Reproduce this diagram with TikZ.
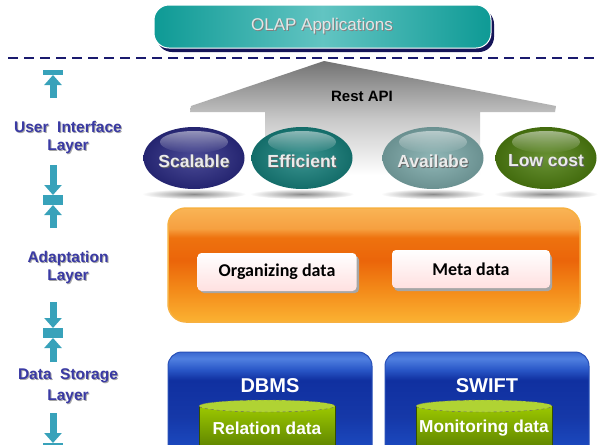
\documentclass[tikz,border=0pt]{standalone}
\usepackage{fontspec}
\setmainfont{Liberation Sans}
\newfontfamily\calib{Carlito}
\usetikzlibrary{shapes.geometric,fadings,calc,arrows.meta}

\definecolor{navy}{HTML}{1A1A6E}
\definecolor{lbl}{HTML}{3A3AA4}
\definecolor{arr}{HTML}{38A2BA}
\definecolor{tealA}{HTML}{0E9A95}
\definecolor{tealB}{HTML}{62C4C2}
\definecolor{ovScal}{HTML}{2B2B84}
\definecolor{ovEff}{HTML}{17807C}
\definecolor{ovAva}{HTML}{7DAAAA}
\definecolor{ovLow}{HTML}{4E7E10}
\definecolor{grA}{HTML}{9CC800}
\definecolor{grB}{HTML}{4C7000}
\definecolor{blRim}{HTML}{2850B8}
\definecolor{orRim}{HTML}{F7B040}
% orange body stops
\definecolor{orS}{HTML}{FBB232}
\definecolor{orT}{HTML}{F38818}
\definecolor{orU}{HTML}{EB650A}
\definecolor{orV}{HTML}{EE720E}
\definecolor{orW}{HTML}{F6A040}
\definecolor{orX}{HTML}{F9B455}
% blue body stops
\definecolor{blS}{HTML}{1E50C8}
\definecolor{blT}{HTML}{1538A8}
\definecolor{blU}{HTML}{1030A0}
\definecolor{blV}{HTML}{2A58C8}
\definecolor{blW}{HTML}{5080E0}
\definecolor{blX}{HTML}{3A68D0}

% orange body of the adaptation layer (bottom -> top)
\pgfdeclareverticalshading{orangebody}{100bp}{
  color(0bp)=(orS); color(25bp)=(orS); color(40bp)=(orT);
  color(52bp)=(orU); color(62bp)=(orV); color(66bp)=(orW);
  color(75bp)=(orX); color(100bp)=(orX)}
\pgfdeclareverticalshading{bluebody}{100bp}{
  color(0bp)=(blS); color(25bp)=(blS); color(45bp)=(blT);
  color(62bp)=(blU); color(67bp)=(blV); color(72bp)=(blW);
  color(75bp)=(blX); color(100bp)=(blX)}

\tikzset{
  layerlbl/.style={font=\bfseries\fontsize{15.5}{17}\selectfont, text=lbl, align=center, inner sep=0pt},
  lblshadow/.style={font=\bfseries\fontsize{15.5}{17}\selectfont, text=black!35, align=center, inner sep=0pt},
  flowarrow/.style={draw=arr, line width=7pt, -{Triangle[width=17pt,length=10pt]}},
  flowbar/.style={fill=arr},
  oval/.style={ellipse, minimum width=101pt, minimum height=62pt, inner sep=0pt},
  ovaltext/.style={font=\bfseries\fontsize{17.5}{19}\selectfont},
  ovalshadow/.style={fill=black!45, path fading=ovalfade},
  innerbox/.style={rounded corners=4pt, minimum width=159pt, minimum height=38pt,
    font=\calib\bfseries\fontsize{18}{20}\selectfont, top color=white, bottom color=red!12!white,
    inner sep=0pt},
  storebox/.style={rounded corners=14pt, draw=blRim, line width=1pt},
  cylfill/.style={top color=grA, bottom color=grB},
  cyltext/.style={font=\bfseries\fontsize{17.3}{19}\selectfont, text=white},
}
\tikzfading[name=ovalfade, inner color=transparent!0, outer color=transparent!100]

\begin{document}
\begin{tikzpicture}[x=1pt,y=-1pt]
\useasboundingbox (0,0) rectangle (598,445);
\fill[white] (0,0) rectangle (598,445);

% ---------- OLAP applications bar ----------
\fill[navy!80!black, rounded corners=15pt] (157,9) rectangle (494,52);
\shade[rounded corners=15pt, left color=tealA, right color=tealA, middle color=tealB, draw=white, line width=1pt]
  (154,5) rectangle (491,48);
\node[font=\fontsize{17}{19}\selectfont, text=black!50] at (323,27) {OLAP Applications};
\node[font=\fontsize{17}{19}\selectfont, text=white!90!black] (olap) at (322,26) {OLAP Applications};

% ---------- separator ----------
\draw[navy, line width=2pt, dash pattern=on 10pt off 6pt] (8,58) -- (598,58);

% ---------- Rest API arrow ----------
\shade[top color=black!55, bottom color=white, middle color=black!22]
  (324,61) -- (556,106) -- (555,112) -- (480,112) -- (480,175) -- (265,175) -- (265,112)
  -- (190,112) -- (191,106) -- cycle;
\node[font=\bfseries\fontsize{15}{17}\selectfont] (rest) at (362,96) {Rest API};

% ---------- property ovals ----------
\foreach \cx/\col/\nm/\txt in {194/ovScal/scal/Scalable, 302/ovEff/eff/Efficient,
    433/ovAva/ava/Availabe, 546/ovLow/low/Low cost}{
  \fill[ovalshadow] (\cx,194) ellipse (52pt and 5pt);
  \node[oval, shading=radial, inner color=\col!85!white, outer color=\col!85!black] (\nm) at (\cx,158) {};
  \fill[white, opacity=0.5, path fading=south] (\cx,142) ellipse (34pt and 11pt);
  \node[ovaltext, text=black!60] at (\cx+1,162) {\txt};
  \node[ovaltext, text=white!92!black] (\nm txt) at (\cx,161) {\txt};
}

% ---------- adaptation layer ----------
\shade[rounded corners=18pt, draw=orRim, line width=1.5pt, shading=orangebody]
  (168,208) rectangle (580,322);
\fill[black!35, rounded corners=4pt] (200,256) rectangle (359,293);
\fill[black!35, rounded corners=4pt] (394,254) rectangle (552,291);
\node[innerbox] (org) at (277,272) {Organizing data};
\node[innerbox, minimum width=158pt] (meta) at (471,269) {Meta data};

% ---------- data storage layer ----------
\foreach \x/\nm/\title/\cyl in {168/dbms/DBMS/Relation data, 385/swift/SWIFT/Monitoring data}{
  \shade[storebox, shading=bluebody] (\x,352) rectangle (\x+204,460);
  \node[font=\bfseries\fontsize{20}{22}\selectfont, text=white] (\nm) at (\x+102,386) {\title};
  % database cylinder
  \shade[cylfill, draw=grB!70!black, line width=0.4pt] (\x+31,406) -- (\x+31,460) -- (\x+167,460) -- (\x+167,406);
  \fill[grA!80!white] (\x+99,406) ellipse (68pt and 6pt);
  \draw[black!60, dashed, line width=0.4pt] (\x+99,406) ellipse (68pt and 6pt);
  \node[cyltext] (\nm data) at (\x+99,428) {\cyl};
}

% ---------- layer labels ----------
\foreach \y/\nm/\txt in {127/ui/{User\ \ Interface}, 147/uil/Layer, 258/ad/Adaptation, 277/adl/Layer,
    376/ds/{Data\ \ Storage}, 397/dsl/Layer}{
  \node[lblshadow] at (69,\y+1.2) {\txt};
  \node[layerlbl] (\nm) at (68,\y) {\txt};
}

% ---------- layer flow arrows ----------
\coordinate (a1s) at (53,98);   \coordinate (a1t) at (53,75);
\coordinate (a2s) at (53,165);  \coordinate (a2t) at (53,195);
\coordinate (a3s) at (53,228);  \coordinate (a3t) at (53,205);
\coordinate (a4s) at (53,302);  \coordinate (a4t) at (53,328);
\coordinate (a5s) at (53,362);  \coordinate (a5t) at (53,338);
\coordinate (a6s) at (53,413);  \coordinate (a6t) at (53,443);
\fill[flowbar] (43,70) rectangle (63,75);
\fill[flowbar] (43,195) rectangle (63,205);
\fill[flowbar] (43,328) rectangle (63,338);
\fill[flowbar] (43,443) rectangle (63,450);
\foreach \a in {a1,a2,a3,a4,a5,a6}{
  \draw[flowarrow] (\a s) -- (\a t);
}
\end{tikzpicture}
\end{document}
